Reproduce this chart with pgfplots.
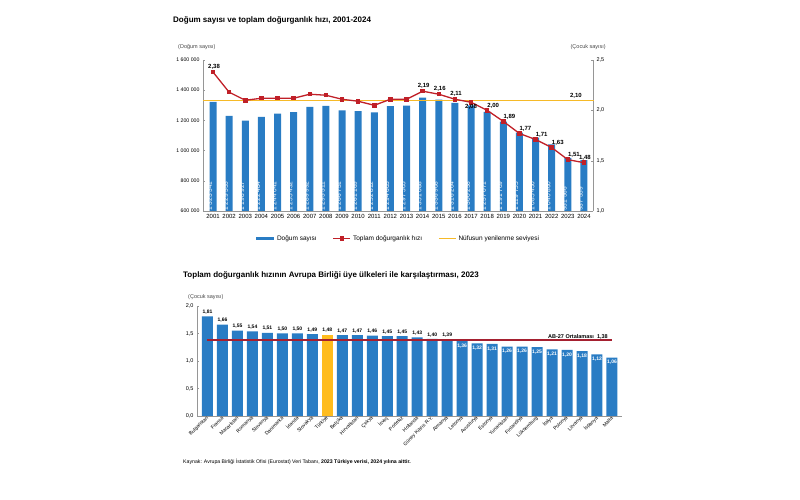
\documentclass[border=0pt]{standalone}
\usepackage{fontspec}
\setmainfont{Liberation Sans}
\usepackage{pgfplots}
\pgfplotsset{compat=1.18}
\definecolor{barblue}{RGB}{41,124,196}
\definecolor{tfrred}{RGB}{192,32,40}
\definecolor{repyel}{RGB}{246,186,40}
\definecolor{trorange}{RGB}{255,188,30}
\definecolor{avgred}{RGB}{165,32,48}
\definecolor{axgray}{RGB}{150,150,150}
\definecolor{txtgray}{RGB}{70,70,70}
\newcommand\fs[1]{\fontsize{#1}{#1}\selectfont}
\begin{document}
\begin{tikzpicture}[x=1pt,y=1pt]
\useasboundingbox (0,0) rectangle (800,500);
% ---------- top panel texts
\node[anchor=base west, inner sep=0, font=\fs{8}\bfseries] at (173,477) {Doğum sayısı ve toplam doğurganlık hızı, 2001-2024};
\node[anchor=base west, inner sep=0, font=\fs{5.5}, text=txtgray] at (178,451) {(Doğum sayısı)};
\node[anchor=base east, inner sep=0, font=\fs{5.5}, text=txtgray] at (606,451) {(Çocuk sayısı)};

\begin{axis}[at={(203pt,289pt)}, anchor=south west, scale only axis,
  width=390pt, height=151pt,
  xmin=2000.38, xmax=2024.56, ymin=600000, ymax=1600000,
  axis lines*=left, axis line style={axgray},
  ytick={600000,800000,1000000,1200000,1400000,1600000},
  scaled y ticks=false,
  yticklabel style={font=\fs{5.2}, /pgf/number format/fixed, /pgf/number format/1000 sep={\ }},
  xtick={2001,2002,...,2024},
  xticklabel style={font=\fs{6}, /pgf/number format/1000 sep={}},
  /pgf/number format/assume math mode=true,
  tick style={axgray}, major tick length=2pt, xtick style={draw=none},
  clip mode=individual]
\addplot[ybar, bar width=7pt, fill=barblue, draw=none] coordinates {
(2001,1323341) (2002,1229555) (2003,1198927) (2004,1222484) (2005,1244041)
(2006,1255432) (2007,1289992) (2008,1295511) (2009,1266751) (2010,1261169)
(2011,1252812) (2012,1294605) (2013,1297505) (2014,1351088) (2015,1336908)
(2016,1316204) (2017,1300258) (2018,1257071) (2019,1191709) (2020,1119755)
(2021,1085450) (2022,1040860) (2023,951566) (2024,937559)};
\addplot[draw=none, mark=none, nodes near coords, point meta=explicit symbolic,
  nodes near coords style={rotate=90, anchor=west, text=white, font=\fs{6.6}, inner sep=0pt, yshift=3.5pt}]
  coordinates {
(2001,600000) [1 323 341] (2002,600000) [1 229 555] (2003,600000) [1 198 927]
(2004,600000) [1 222 484] (2005,600000) [1 244 041] (2006,600000) [1 255 432]
(2007,600000) [1 289 992] (2008,600000) [1 295 511] (2009,600000) [1 266 751]
(2010,600000) [1 261 169] (2011,600000) [1 252 812] (2012,600000) [1 294 605]
(2013,600000) [1 297 505] (2014,600000) [1 351 088] (2015,600000) [1 336 908]
(2016,600000) [1 316 204] (2017,600000) [1 300 258] (2018,600000) [1 257 071]
(2019,600000) [1 191 709] (2020,600000) [1 119 755] (2021,600000) [1 085 450]
(2022,600000) [1 040 860] (2023,600000) [951 566] (2024,600000) [937 559]};
\end{axis}

\begin{axis}[at={(203pt,289pt)}, anchor=south west, scale only axis,
  width=390pt, height=151pt,
  xmin=2000.38, xmax=2024.56, ymin=1, ymax=2.5,
  axis x line=none, axis y line*=right, axis line style={axgray},
  ytick={1,1.5,2,2.5},
  yticklabel style={font=\fs{5.5}, /pgf/number format/fixed, /pgf/number format/fixed zerofill, /pgf/number format/precision=1, /pgf/number format/use comma},
  /pgf/number format/assume math mode=true,
  tick style={axgray}, major tick length=2pt,
  clip=false,
  legend columns=3,
  legend style={at={(0.5,-0.135)}, anchor=north, draw=none, fill=none, font=\fs{6.5},
     /tikz/every even column/.append style={column sep=14pt}},
  legend cell align=left]
\addlegendimage{barblue, line width=3pt}
\addlegendentry{Doğum sayısı}
\addlegendimage{tfrred, line width=1.3pt, mark=square*, mark size=1.6pt}
\addlegendentry{Toplam doğurganlık hızı}
\addlegendimage{repyel, line width=1.3pt}
\addlegendentry{Nüfusun yenilenme seviyesi}
\addplot[repyel, line width=1.3pt, forget plot] coordinates {(2000.38,2.10) (2024.62,2.10)};
\addplot[tfrred, line width=1.3pt, mark=square*, mark size=1.6pt, forget plot] coordinates {
(2001,2.38) (2002,2.18) (2003,2.10) (2004,2.12) (2005,2.12) (2006,2.12)
(2007,2.16) (2008,2.15) (2009,2.11) (2010,2.09) (2011,2.05) (2012,2.11)
(2013,2.11) (2014,2.19) (2015,2.16) (2016,2.11) (2017,2.08) (2018,2.00)
(2019,1.89) (2020,1.77) (2021,1.71) (2022,1.63) (2023,1.51) (2024,1.48)};
% value labels
\addplot[draw=none, mark=none, forget plot, nodes near coords, point meta=y,
  nodes near coords={\pgfmathprintnumber[fixed,fixed zerofill,precision=2,use comma]{\pgfplotspointmeta}},
  nodes near coords style={anchor=south, font=\fs{6}\bfseries, inner sep=1pt, yshift=1.5pt, xshift=1pt}]
  coordinates {(2001,2.38) (2014,2.19) (2015,2.16) (2016,2.11) (2024,1.48)};
\addplot[draw=none, mark=none, forget plot, nodes near coords, point meta=y,
  nodes near coords={\pgfmathprintnumber[fixed,fixed zerofill,precision=2,use comma]{\pgfplotspointmeta}},
  nodes near coords style={anchor=south west, font=\fs{6}\bfseries, inner sep=1pt, yshift=1pt, xshift=-1pt}]
  coordinates {(2018,2.00) (2019,1.89) (2020,1.77) (2021,1.71) (2022,1.63) (2023,1.51)};
\addplot[draw=none, mark=none, forget plot, nodes near coords, point meta=y,
  nodes near coords={\pgfmathprintnumber[fixed,fixed zerofill,precision=2,use comma]{\pgfplotspointmeta}},
  nodes near coords style={anchor=north, font=\fs{6}\bfseries, inner sep=1pt, yshift=-0.5pt}]
  coordinates {(2017,2.08)};
\addplot[draw=none, mark=none, forget plot, nodes near coords, point meta=explicit symbolic,
  nodes near coords style={anchor=south, font=\fs{6}\bfseries, inner sep=1pt, yshift=1pt}]
  coordinates {(2023.5,2.10) [2{,}10]};
\end{axis}

% ---------- bottom panel
\node[anchor=base west, inner sep=0, font=\fs{8}\bfseries] at (183,222) {Toplam doğurganlık hızının Avrupa Birliği üye ülkeleri ile karşılaştırması, 2023};
\node[anchor=base west, inner sep=0, font=\fs{5.5}, text=txtgray] at (188,201) {(Çocuk sayısı)};

\begin{axis}[at={(197pt,84pt)}, anchor=south west, scale only axis,
  width=425pt, height=110pt,
  xmin=-0.7, xmax=27.67, ymin=0, ymax=2,
  axis lines*=left, axis line style={axgray},
  ytick={0,0.5,1,1.5,2},
  yticklabel style={font=\fs{5.5}, /pgf/number format/fixed, /pgf/number format/fixed zerofill, /pgf/number format/precision=1, /pgf/number format/use comma},
  /pgf/number format/assume math mode=true,
  tick style={axgray}, major tick length=2pt, xtick style={draw=none},
  xtick={0,1,...,27},
  xticklabels={Bulgaristan, Fransa, Macaristan, Romanya, Slovenya, Danimarka, İrlanda, Slovakya, Türkiye, Belçika, Hırvatistan, Çekya, İsveç, Portekiz, Hollanda, Güney Kıbrıs R.Y., Almanya, Letonya, Avusturya, Estonya, Yunanistan, Finlandiya, Lüksemburg, İtalya, Polonya, Litvanya, İspanya, Malta},
  xticklabel style={rotate=45, anchor=east, font=\fs{5}, inner sep=0.5pt, yshift=-1pt},
  clip=false]
\addplot[ybar, bar width=11pt, bar shift=0pt, fill=barblue, draw=none,
  nodes near coords, point meta=y,
  nodes near coords={\pgfmathprintnumber[fixed,fixed zerofill,precision=2,use comma]{\pgfplotspointmeta}},
  nodes near coords style={anchor=south, font=\fs{5}\bfseries, inner sep=1pt, yshift=1pt}]
  coordinates {(0,1.81) (1,1.66) (2,1.55) (3,1.54) (4,1.51) (5,1.50) (6,1.50) (7,1.49)
  (9,1.47) (10,1.47) (11,1.46) (12,1.45) (13,1.45) (14,1.43) (15,1.40) (16,1.39)};
\addplot[ybar, bar width=11pt, bar shift=0pt, fill=trorange, draw=none,
  nodes near coords, point meta=y,
  nodes near coords={\pgfmathprintnumber[fixed,fixed zerofill,precision=2,use comma]{\pgfplotspointmeta}},
  nodes near coords style={anchor=south, font=\fs{5}\bfseries, inner sep=1pt, yshift=1pt}]
  coordinates {(8,1.48)};
\addplot[ybar, bar width=11pt, bar shift=0pt, fill=barblue, draw=none,
  nodes near coords, point meta=y,
  nodes near coords={\pgfmathprintnumber[fixed,fixed zerofill,precision=2,use comma]{\pgfplotspointmeta}},
  nodes near coords style={anchor=north, text=white, font=\fs{5}\bfseries, inner sep=1pt, yshift=-1.5pt}]
  coordinates {(17,1.36) (18,1.32) (19,1.31) (20,1.26) (21,1.26) (22,1.25) (23,1.21)
  (24,1.20) (25,1.18) (26,1.12) (27,1.06)};
\addplot[avgred, line width=1.4pt] coordinates {(0,1.38) (27,1.38)};
\node[anchor=south east, font=\fs{5.5}\bfseries, inner sep=1pt] at (axis cs:26.8,1.38) {AB-27 Ortalaması\ \ 1,38};
\end{axis}

\node[anchor=base west, inner sep=0, font=\fs{5.2}] at (183,36) {Kaynak: Avrupa Birliği İstatistik Ofisi (Eurostat) Veri Tabanı, \textbf{2023 Türkiye verisi, 2024 yılına aittir.}};
\end{tikzpicture}
\end{document}
